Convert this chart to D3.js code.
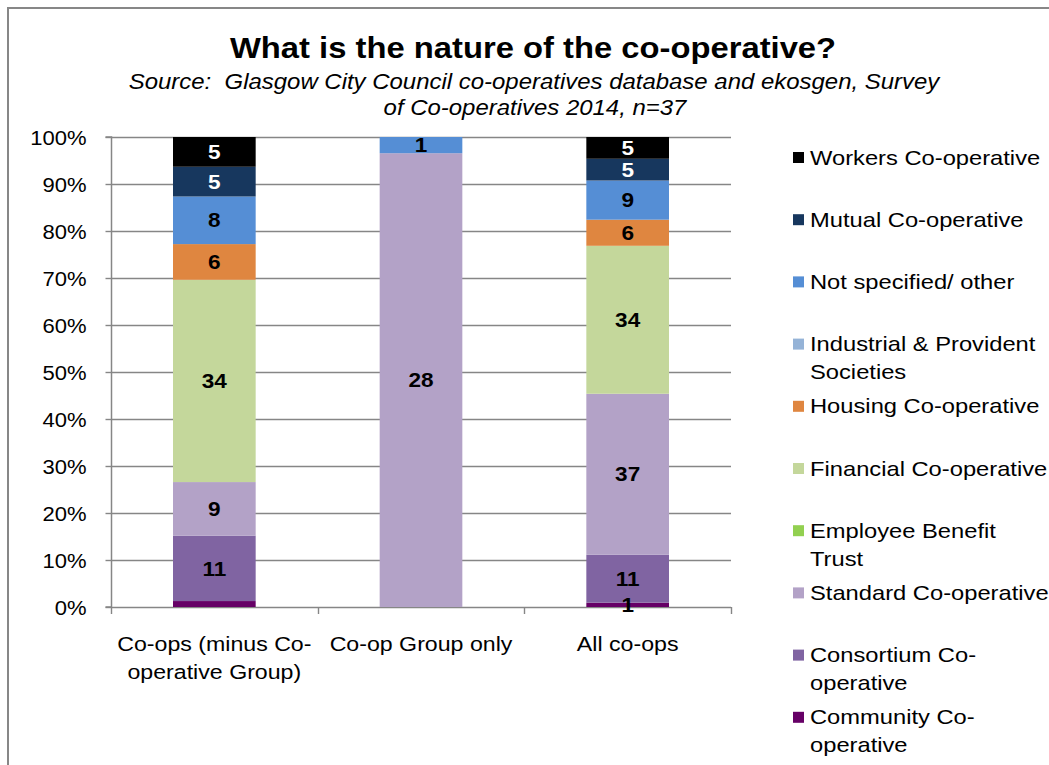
<!DOCTYPE html>
<html>
<head>
<meta charset="utf-8">
<script src="https://cdn.jsdelivr.net/npm/d3@7/dist/d3.min.js"></script>
<style>
  html, body { margin: 0; padding: 0; background: #fff; }
  svg { display: block; font-family: "Liberation Sans", Arial, sans-serif; }
  text { white-space: pre; }
</style>
</head>
<body>
<svg id="chart" width="1049" height="765"></svg>
<script>
// Bar categories (x axis)
const categories = ["Co-ops (minus Co-operative Group)", "Co-op Group only", "All co-ops"];
const categoryLines = [["Co-ops (minus Co-", "operative Group)"], ["Co-op Group only"], ["All co-ops"]];

// Series, listed bottom of stack first
const seriesNames = [
  "Community Co-operative",
  "Consortium Co-operative",
  "Standard Co-operative",
  "Employee Benefit Trust",
  "Financial Co-operative",
  "Housing Co-operative",
  "Industrial & Provident Societies",
  "Not specified/ other",
  "Mutual Co-operative",
  "Workers Co-operative"
];
const seriesColors = ["#660066", "#8064A2", "#B3A2C7", "#92D050", "#C4D79B", "#DF8640", "#95B3D7", "#558ED5", "#17375E", "#000000"];
const legendLines = [
  ["Community Co-", "operative"],
  ["Consortium Co-", "operative"],
  ["Standard Co-operative"],
  ["Employee Benefit", "Trust"],
  ["Financial Co-operative"],
  ["Housing Co-operative"],
  ["Industrial & Provident", "Societies"],
  ["Not specified/ other"],
  ["Mutual Co-operative"],
  ["Workers Co-operative"]
];

// Counts per category, one array per series (same order as categories)
const community     = [1, 0, 1];
const consortium    = [11, 0, 11];
const standard      = [9, 28, 37];
const employeeTrust = [0, 0, 0];
const financial     = [34, 0, 34];
const housing       = [6, 0, 6];
const industrial    = [0, 0, 0];
const notSpecified  = [8, 1, 9];
const mutual        = [5, 0, 5];
const workers       = [5, 0, 5];
const seriesValues = [community, consortium, standard, employeeTrust, financial, housing, industrial, notSpecified, mutual, workers];

// Segment labels that are not printed: [category index, series index]
const unlabelled = [[0, 0]];

const yTicks = [0, 0.1, 0.2, 0.3, 0.4, 0.5, 0.6, 0.7, 0.8, 0.9, 1.0];

const svg = d3.select("#chart");
const W = 1049, H = 765;
const SX = 1.13; // horizontal text widening used throughout the chart

// Text helper: widened text anchored at (x, y), optional extra lines
function label(parent, x, y, lines, opts) {
  const o = Object.assign({ size: 20, weight: "normal", style: "normal", anchor: "start", fill: "#000", lineGap: 28, dy: 0 }, opts || {});
  const t = parent.append("text")
    .attr("transform", `translate(${x},${y}) scale(${SX},1)`)
    .attr("text-anchor", o.anchor)
    .attr("font-size", o.size).attr("font-weight", o.weight).attr("font-style", o.style)
    .attr("fill", o.fill);
  [].concat(lines).forEach((ln, k) => {
    t.append("tspan").attr("x", 0).attr("y", k * o.lineGap).attr("dy", o.dy).text(ln);
  });
  return t;
}

// outer frame (top and left edges)
svg.append("path")
  .attr("d", `M8,${H} L8,8 L${W},8`)
  .attr("fill", "none").attr("stroke", "#878787").attr("stroke-width", 2);

// Title and source
label(svg, 533, 58, "What is the nature of the co-operative?", { size: 29, weight: "bold", anchor: "middle" });
label(svg, 534, 89, "Source:\u00a0 Glasgow City Council co-operatives database and ekosgen, Survey", { size: 21.2, style: "italic", anchor: "middle" });
label(svg, 535, 115, "of Co-operatives 2014, n=37", { size: 21.2, style: "italic", anchor: "middle" });

// Plot area
const plot = { left: 111, right: 731, top: 137, bottom: 607 };

const x = d3.scaleBand().domain(categories)
  .range([plot.left, plot.right]).paddingInner(0.6).paddingOuter(0.3);
const y = d3.scaleLinear().domain([0, 1]).range([plot.bottom, plot.top]);

// Rows for stacking
const rows = categories.map((c, i) => {
  const r = { category: c };
  seriesNames.forEach((s, j) => { r[s] = seriesValues[j][i]; });
  return r;
});
const stacked = d3.stack().keys(seriesNames).offset(d3.stackOffsetExpand)(rows);

const axisColor = "#868686";

// Gridlines
svg.append("g").selectAll("line").data(yTicks.slice(1)).join("line")
  .attr("x1", plot.left).attr("x2", plot.right)
  .attr("y1", d => Math.round(y(d)) + 0.5).attr("y2", d => Math.round(y(d)) + 0.5)
  .attr("stroke", axisColor).attr("stroke-width", 1.4);

// Y axis
const yAxis = d3.axisLeft(y).tickValues(yTicks).tickFormat(d3.format(".0%")).tickSize(6).tickPadding(25);
const gy = svg.append("g").attr("transform", `translate(${plot.left + 0.5},0)`).call(yAxis);
gy.select(".domain").attr("stroke", axisColor).attr("stroke-width", 1.5).attr("d", `M-6,${plot.top}H0V${plot.bottom}H-6`);
gy.selectAll(".tick line").attr("stroke", axisColor).attr("stroke-width", 1.4);
gy.selectAll(".tick text")
  .attr("font-size", 19.5).attr("fill", "#000")
  .attr("font-family", "Liberation Sans, Arial, sans-serif")
  .attr("dy", "0.36em")
  .attr("x", -25 / SX)
  .attr("transform", `scale(${SX},1)`);

// X axis baseline with boundary ticks
const boundaries = [plot.left, ...categories.map(c => x(c) + x.bandwidth() + x.step() * x.paddingInner() / 2)];
boundaries[boundaries.length - 1] = plot.right;
svg.append("line").attr("x1", plot.left).attr("x2", plot.right)
  .attr("y1", plot.bottom + 0.5).attr("y2", plot.bottom + 0.5)
  .attr("stroke", axisColor).attr("stroke-width", 1.5);
svg.append("g").selectAll("line").data(boundaries).join("line")
  .attr("x1", d => Math.round(d) + 0.5).attr("x2", d => Math.round(d) + 0.5)
  .attr("y1", plot.bottom).attr("y2", plot.bottom + 7)
  .attr("stroke", axisColor).attr("stroke-width", 1.4);

// Category labels
const catG = svg.append("g");
categories.forEach((c, i) => {
  label(catG, x(c) + x.bandwidth() / 2, 651, categoryLines[i], { size: 20.5, anchor: "middle" });
});

// Bars
const barsG = svg.append("g");
stacked.forEach((layer, j) => {
  barsG.append("g").attr("fill", seriesColors[j])
    .selectAll("rect").data(layer).join("rect")
    .attr("x", d => x(d.data.category))
    .attr("width", x.bandwidth())
    .attr("y", d => y(d[1]))
    .attr("height", d => Math.max(0, y(d[0]) - y(d[1])));
});

// Segment value labels
const labelsG = svg.append("g");
stacked.forEach((layer, j) => {
  layer.forEach((d, i) => {
    const v = seriesValues[j][i];
    if (!v) return;
    if (unlabelled.some(u => u[0] === i && u[1] === j)) return;
    const light = seriesNames[j] === "Workers Co-operative" || seriesNames[j] === "Mutual Co-operative";
    label(labelsG, x(d.data.category) + x.bandwidth() / 2, (y(d[0]) + y(d[1])) / 2, String(v),
      { size: 20, weight: "bold", anchor: "middle", fill: light ? "#fff" : "#000", dy: "0.36em" });
  });
});

// Legend (top entry = top of stack)
const legendOrder = d3.range(seriesNames.length).reverse();
const legendG = svg.append("g");
legendOrder.forEach((j, k) => {
  const cy = 157 + k * 62.2;
  legendG.append("rect").attr("x", 793).attr("y", cy - 5).attr("width", 11).attr("height", 11)
    .attr("fill", seriesColors[j]);
  label(legendG, 810, cy, legendLines[j], { size: 21, dy: "0.36em" });
});
</script>
</body>
</html>
